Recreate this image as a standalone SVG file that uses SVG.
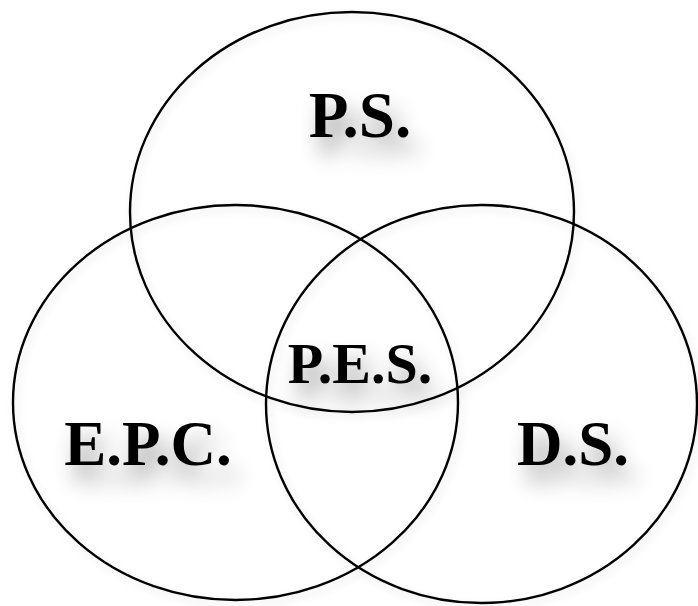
<svg xmlns="http://www.w3.org/2000/svg" width="698" height="606" viewBox="0 0 698 606">
<defs>
<filter id="ts" x="-50%" y="-50%" width="200%" height="250%">
<feGaussianBlur in="SourceAlpha" stdDeviation="11"/>
<feOffset dx="8" dy="16" result="b"/>
<feComponentTransfer><feFuncA type="linear" slope="0.4"/></feComponentTransfer>
<feMerge><feMergeNode/><feMergeNode in="SourceGraphic"/></feMerge>
</filter>
<filter id="es" x="-10%" y="-10%" width="120%" height="120%">
<feGaussianBlur in="SourceAlpha" stdDeviation="5"/>
<feOffset dx="3" dy="4"/>
<feComponentTransfer><feFuncA type="linear" slope="0.12"/></feComponentTransfer>
<feMerge><feMergeNode/><feMergeNode in="SourceGraphic"/></feMerge>
</filter>
</defs>
<style>
ellipse{fill:none;stroke:#000;stroke-width:2.4}
text{font-family:"Liberation Serif","Times New Roman",serif;font-weight:bold;fill:#000;text-anchor:middle}
</style>
<rect width="698" height="606" fill="#fff"/>
<g id="ps">
<ellipse cx="352" cy="212" rx="222" ry="200" filter="url(#es)"/>
<text x="360" y="137" font-size="65" filter="url(#ts)">P.S.</text>
</g>
<g id="epc">
<ellipse cx="235.5" cy="402.5" rx="222.5" ry="197.5" filter="url(#es)"/>
<text x="148" y="465" font-size="63" filter="url(#ts)">E.P.C.</text>
</g>
<g id="ds">
<ellipse cx="481.5" cy="404" rx="215.5" ry="199" filter="url(#es)"/>
<text x="573" y="465" font-size="63" filter="url(#ts)">D.S.</text>
</g>
<g id="pes">
<text x="360" y="383" font-size="58" filter="url(#ts)">P.E.S.</text>
</g>
<g id="connectors"/>
</svg>
